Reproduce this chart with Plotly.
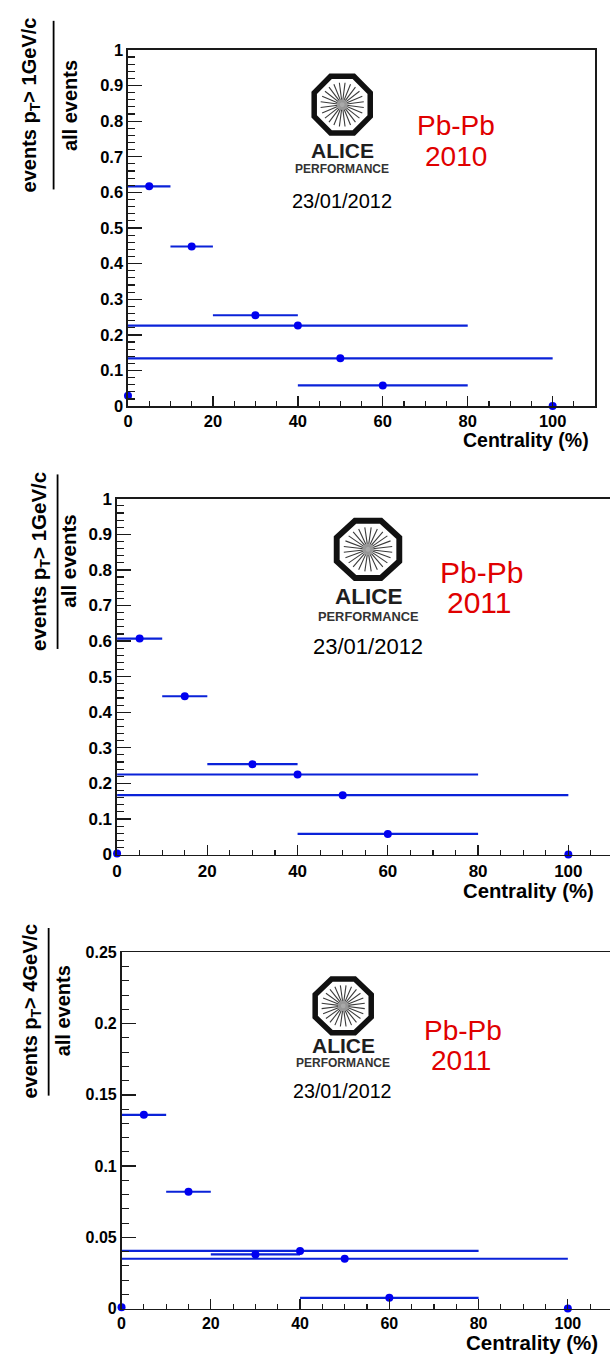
import math
import plotly.graph_objects as go

W, H = 610, 1363

# ---------------- data ----------------
centrality = [0, 5, 15, 30, 40, 50, 60, 100]
centrality_halfwidth = [0, 5, 5, 10, 40, 50, 20, 0]

frac_pbpb2010_1gev = [0.029, 0.617, 0.448, 0.255, 0.226, 0.134, 0.058, 0.0]
frac_pbpb2011_1gev = [0.003, 0.607, 0.445, 0.254, 0.225, 0.167, 0.058, 0.0]
frac_pbpb2011_4gev = [0.001, 0.136, 0.082, 0.038, 0.0405, 0.035, 0.0076, 0.0]

panel_labels = ["2010", "2011", "2011"]
pt_cuts = ["1GeV/c", "1GeV/c", "4GeV/c"]
date_label = "23/01/2012"
x_title = "Centrality (%)"

# ---------------- helpers ----------------
def px(x):
    return x / W


def py(y):
    return 1 - y / H


FONT = "Liberation Sans, Arial, Helvetica, sans-serif"
BLUE_LINE = "#0a22d8"
BLUE_MARK = "#0000f0"

fig = go.Figure()

series = [frac_pbpb2010_1gev, frac_pbpb2011_1gev, frac_pbpb2011_4gev]
for i, vals in enumerate(series):
    fig.add_trace(go.Scatter(
        x=centrality, y=vals, mode="markers",
        marker=dict(color=BLUE_MARK, size=8),
        error_x=dict(type="data", array=centrality_halfwidth, symmetric=True,
                     color=BLUE_LINE, thickness=2.2, width=0),
        xaxis="x" if i == 0 else f"x{i+1}",
        yaxis="y" if i == 0 else f"y{i+1}",
        cliponaxis=False, showlegend=False, hoverinfo="x+y",
    ))

# panel geometry (pixels)
panels = [
    dict(x0=124.0, xr=595.0, xmax=110.0, ybot=402.7, ytop=41.5, ymax=1.0,
         dy=0.1, dmy=0.02, tick=16.5, mirror_y=True),
    dict(x0=113.0, xr=610.0, xmax=(610 - 113.0) / 4.55, ybot=857.5, ytop=496.7, ymax=1.0,
         dy=0.1, dmy=0.02, tick=17, mirror_y=False),
    dict(x0=117.5, xr=610.0, xmax=(610 - 117.5) / 4.5, ybot=1318.0, ytop=956.7, ymax=0.25,
         dy=0.05, dmy=0.01, tick=16, mirror_y=False),
]

layout_axes = {}
for i, p in enumerate(panels):
    xs = "xaxis" if i == 0 else f"xaxis{i+1}"
    ys = "yaxis" if i == 0 else f"yaxis{i+1}"
    yname = "y" if i == 0 else f"y{i+1}"
    xname = "x" if i == 0 else f"x{i+1}"
    tf = dict(family=FONT, size=p["tick"], color="black", weight=700)
    layout_axes[xs] = dict(
        domain=[px(p["x0"]), min(1.0, px(p["xr"]))], range=[0, p["xmax"]],
        anchor=yname, showgrid=False, zeroline=False,
        showline=True, linecolor="#1a1a1a", linewidth=1.6, mirror=True,
        ticks="inside", dtick=20, tick0=0, ticklen=10, tickwidth=1.3, tickcolor="#1a1a1a",
        minor=dict(ticks="inside", dtick=5, ticklen=5, tickwidth=1.1, tickcolor="#1a1a1a"),
        tickfont=tf, fixedrange=True,
    )
    layout_axes[ys] = dict(
        domain=[py(p["ybot"]), py(p["ytop"])], range=[0, p["ymax"]],
        anchor=xname, showgrid=False, zeroline=False,
        showline=True, linecolor="#1a1a1a", linewidth=1.6, mirror=p["mirror_y"],
        ticks="inside", dtick=p["dy"], tick0=0, ticklen=14, tickwidth=1.3, tickcolor="#1a1a1a",
        minor=dict(ticks="inside", dtick=p["dmy"], ticklen=7, tickwidth=1.1, tickcolor="#1a1a1a"),
        tickfont=tf, fixedrange=True,
    )

annotations = []
shapes = []


def text(x, y, s, size, color="black", bold=False, angle=0, xanchor="center"):
    annotations.append(dict(
        x=px(x), y=py(y), xref="paper", yref="paper", text=s, showarrow=False,
        xanchor=xanchor, yanchor="middle", textangle=angle,
        font=dict(family=FONT, size=size, color=color, weight=700 if bold else 400),
    ))


def logo(cx, cy, hw, hh, scale):
    sw = 5.5 * scale
    ax, ay = hw - sw / 2, hh - sw / 2
    c = math.cos(math.radians(22.5))
    pts = []
    for k in range(8):
        th = math.radians(22.5 + 45 * k)
        pts.append((cx + ax / c * math.cos(th), cy + ay / c * math.sin(th)))
    path = "M " + " L ".join(f"{px(x):.5f},{py(y):.5f}" for x, y in pts) + " Z"
    shapes.append(dict(type="path", xref="paper", yref="paper", path=path,
                       line=dict(color="#111111", width=sw), fillcolor="rgba(0,0,0,0)"))
    rx, ry = (hw - sw) * 0.86, (hh - sw) * 0.86
    for k in range(24):
        th = math.radians(7.5 + 15 * k)
        x1, y1 = cx + 2.5 * math.cos(th), cy + 2.5 * math.sin(th)
        x2, y2 = cx + rx * math.cos(th), cy + ry * math.sin(th)
        shapes.append(dict(type="line", xref="paper", yref="paper",
                           x0=px(x1), y0=py(y1), x1=px(x2), y1=py(y2),
                           line=dict(color="#3a3a3a", width=1.1)))
    r = 5.5 * scale
    shapes.append(dict(type="circle", xref="paper", yref="paper",
                       x0=px(cx - r), x1=px(cx + r), y0=py(cy + r), y1=py(cy - r),
                       fillcolor="#a0a0a0", line=dict(width=0), opacity=0.9))


deco = [
    dict(logo=(340, 97, 31, 31.5), s=1.0, alice=143, perf=162, date=(340, 195), dsz=20,
         pb=(455, 118), yr=(455, 150), pbsz=28,
         xt=(591, 437, 19.5),
         num=(26, 97), den=(65, 98), bar=(49, 12, 183), tsz=20),
    dict(logo=(366, 548, 34.5, 32), s=1.07, alice=595.5, perf=616, date=(366, 647), dsz=22,
         pb=(480, 571), yr=(478, 602), pbsz=30,
         xt=(596, 894, 20.3),
         num=(35, 560), den=(64, 560), bar=(53, 472, 649), tsz=20.5),
    dict(logo=(341, 1011, 31, 30), s=1.0, alice=1051.5, perf=1069, date=(340, 1097.5), dsz=19.7,
         pb=(462, 1036), yr=(460, 1066), pbsz=28,
         xt=(600, 1352, 20.5),
         num=(27, 1016), den=(58, 1016), bar=(44, 932, 1102), tsz=20),
]

for i, d in enumerate(deco):
    cx, cy, hw, hh = d["logo"]
    logo(cx, cy, hw, hh, d["s"])
    text(cx, d["alice"], "ALICE", 21 * d["s"], color="#1e1e1e", bold=True)
    text(cx, d["perf"], "PERFORMANCE", 12 * d["s"], color="#333333", bold=True)
    text(d["date"][0], d["date"][1], date_label, d["dsz"])
    text(d["pb"][0], d["pb"][1], "Pb-Pb", d["pbsz"], color="#e00000")
    text(d["yr"][0], d["yr"][1], panel_labels[i], d["pbsz"], color="#e00000")
    text(d["xt"][0], d["xt"][1], x_title, d["xt"][2], bold=True, xanchor="right")
    text(d["num"][0], d["num"][1], f"events p<sub>T</sub>> {pt_cuts[i]}", d["tsz"],
         bold=True, angle=-90)
    text(d["den"][0], d["den"][1], "all events", d["tsz"], bold=True, angle=-90)
    bx, by0, by1 = d["bar"]
    shapes.append(dict(type="line", xref="paper", yref="paper",
                       x0=px(bx), x1=px(bx), y0=py(by0), y1=py(by1),
                       line=dict(color="black", width=1.8)))

fig.update_layout(
    width=W, height=H, margin=dict(l=0, r=0, t=0, b=0),
    paper_bgcolor="white", plot_bgcolor="white",
    showlegend=False, annotations=annotations, shapes=shapes,
    **layout_axes,
)

fig.write_html(
    "out.html",
    config={"displayModeBar": False, "staticPlot": True},
    post_script=("document.body.style.margin='0';document.body.style.padding='0';"
                 "document.body.style.overflow='hidden';"
                 "document.documentElement.style.overflow='hidden';"),
)
